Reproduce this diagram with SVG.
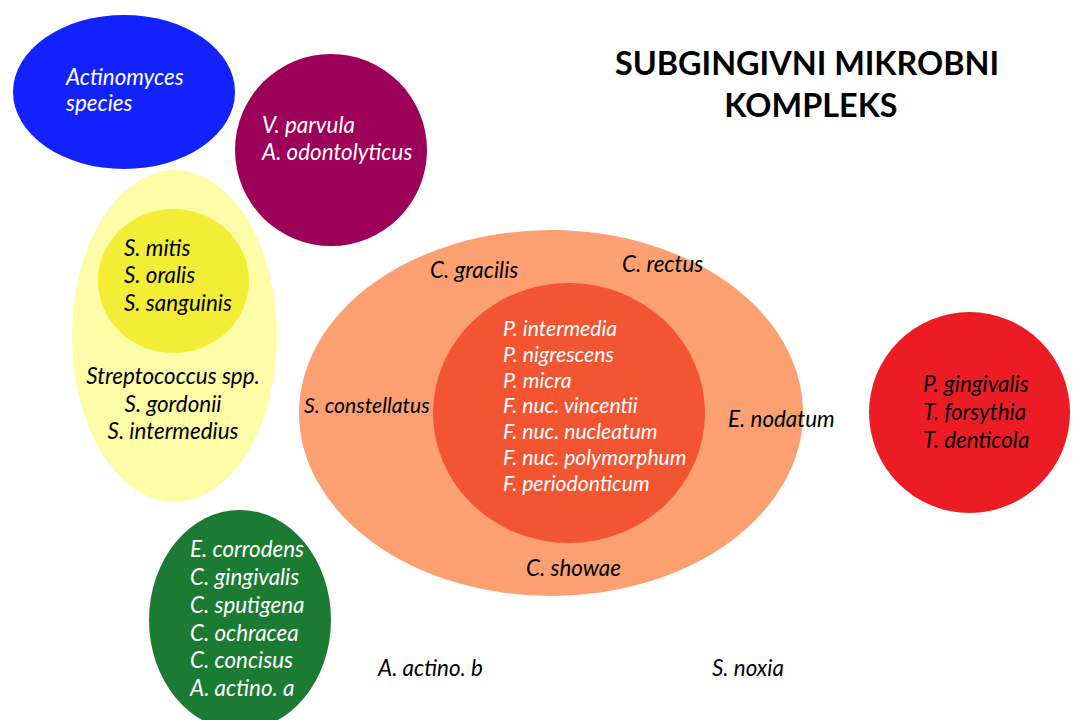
<svg xmlns="http://www.w3.org/2000/svg" width="1073" height="720" viewBox="0 0 1073 720">
<style>
text{font-family:Lato,"Open Sans","Liberation Sans",sans-serif;font-style:italic;font-size:22.4px}
.w{fill:#ffffff}
.k{fill:#000000}
.m{text-anchor:middle}
.s{font-size:21.2px}
.title{font-style:normal;font-weight:bold;font-size:32.4px;text-anchor:middle;fill:#000}
</style>
<rect width="1073" height="720" fill="#ffffff"/>
<g id="title">
<text class="title" x="807" y="75">SUBGINGIVNI MIKROBNI</text>
<text class="title" x="811" y="117">KOMPLEKS</text>
</g>
<g id="blue">
<ellipse cx="124" cy="92" rx="111" ry="77" fill="#1122FF"/>
<text class="w" x="66" y="85">Actinomyces</text>
<text class="w" x="66" y="111">species</text>
</g>
<g id="purple">
<circle cx="331" cy="150" r="96" fill="#9C0058"/>
<text class="w" x="262" y="133">V. parvula</text>
<text class="w" x="262" y="160">A. odontolyticus</text>
</g>
<g id="yellow">
<ellipse cx="174.5" cy="336" rx="102.5" ry="166" fill="#FEFCA6"/>
<ellipse cx="173.5" cy="281" rx="75.5" ry="72" fill="#F1EE35"/>
<text class="k" x="124" y="256">S. mitis</text>
<text class="k" x="124" y="283">S. oralis</text>
<text class="k" x="124" y="311">S. sanguinis</text>
<text class="k m" x="173" y="384">Streptococcus spp.</text>
<text class="k m" x="173" y="412">S. gordonii</text>
<text class="k m" x="173" y="439">S. intermedius</text>
</g>
<g id="orange">
<ellipse cx="551" cy="413" rx="252" ry="183" fill="#FCA072"/>
<ellipse cx="569" cy="413" rx="136" ry="130" fill="#F35533"/>
<text class="k" x="430" y="278">C. gracilis</text>
<text class="k" x="622" y="272">C. rectus</text>
<text class="k s" x="304" y="413">S. constellatus</text>
<text class="k" x="728" y="427">E. nodatum</text>
<text class="k" x="526" y="576">C. showae</text>
<text class="w s" x="503" y="336">P. intermedia</text>
<text class="w s" x="503" y="362">P. nigrescens</text>
<text class="w s" x="503" y="388">P. micra</text>
<text class="w s" x="503" y="413">F. nuc. vincentii</text>
<text class="w s" x="503" y="439">F. nuc. nucleatum</text>
<text class="w s" x="503" y="465">F. nuc. polymorphum</text>
<text class="w s" x="503" y="491">F. periodonticum</text>
</g>
<g id="red">
<circle cx="969.5" cy="412.5" r="100.5" fill="#ED1C24"/>
<text class="k" x="923" y="392">P. gingivalis</text>
<text class="k" x="923" y="420">T. forsythia</text>
<text class="k" x="923" y="448">T. denticola</text>
</g>
<g id="green">
<ellipse cx="240" cy="620" rx="91" ry="110" fill="#1C7B32"/>
<text class="w" x="190" y="557">E. corrodens</text>
<text class="w" x="190" y="585">C. gingivalis</text>
<text class="w" x="190" y="613">C. sputigena</text>
<text class="w" x="190" y="641">C. ochracea</text>
<text class="w" x="190" y="668">C. concisus</text>
<text class="w" x="190" y="696">A. actino. a</text>
</g>
<g id="loose">
<text class="k" x="378" y="676">A. actino. b</text>
<text class="k" x="712" y="676">S. noxia</text>
</g>
<g id="connectors"></g>
</svg>
